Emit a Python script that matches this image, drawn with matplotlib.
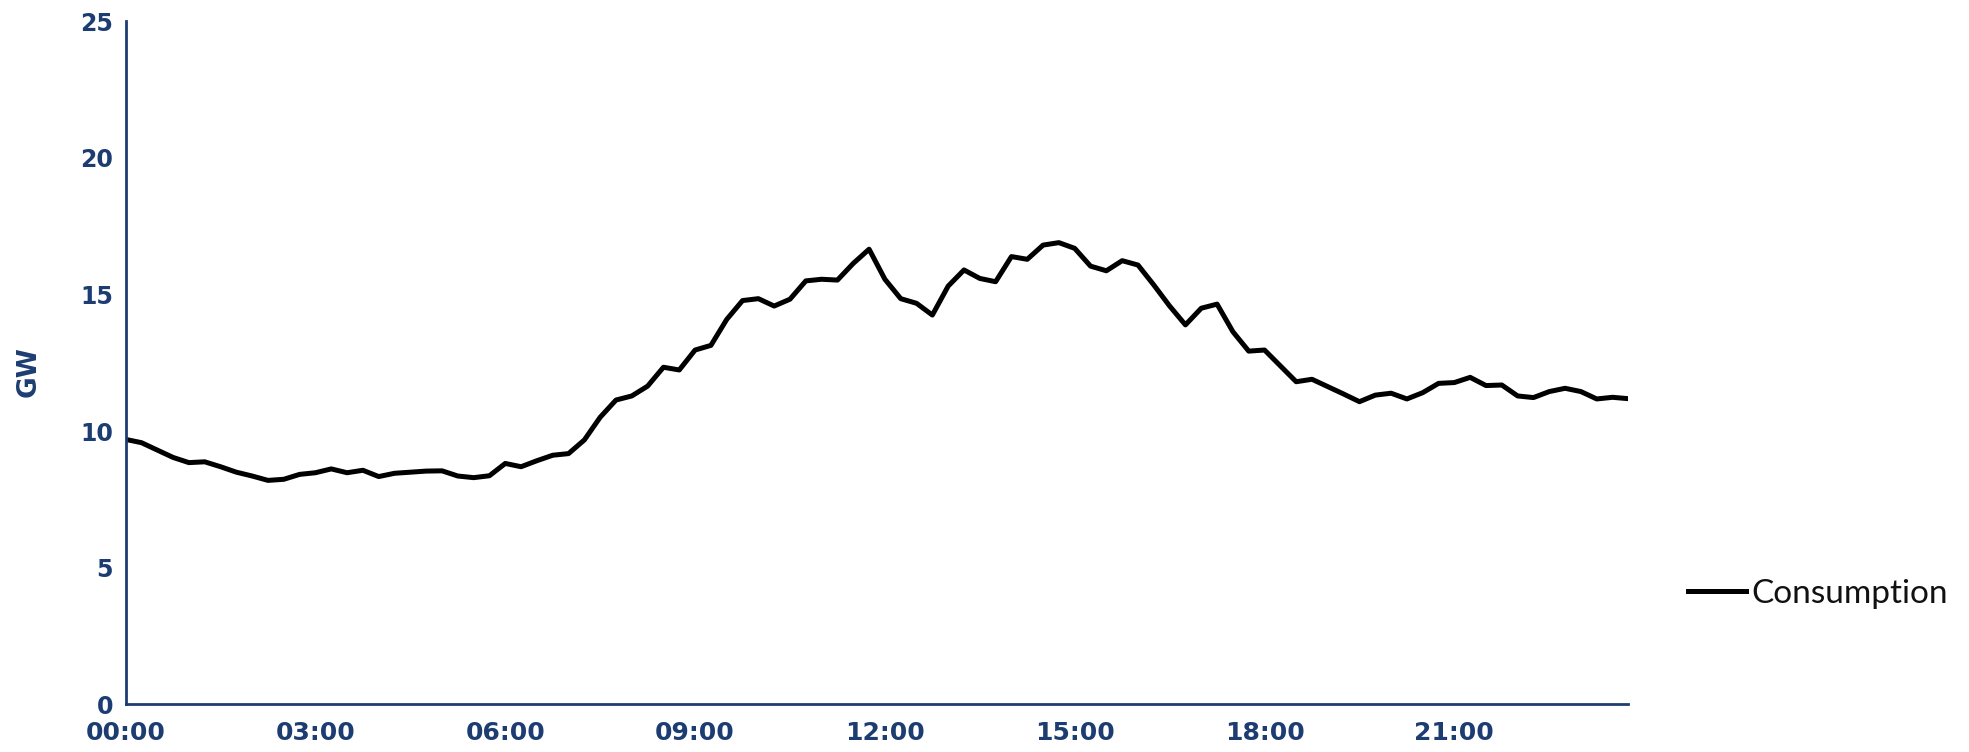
import numpy as np
import matplotlib.pyplot as plt

# Consumption, 15-minute steps over one day (GW)
consumption = [
    9.70, 9.58, 9.31, 9.04, 8.85, 8.88, 8.70, 8.50, 8.36, 8.20, 8.24, 8.42,
    8.48, 8.62, 8.48, 8.57, 8.34, 8.46, 8.50, 8.54, 8.55, 8.36, 8.30, 8.37,
    8.82, 8.70, 8.92, 9.12, 9.18, 9.68, 10.51, 11.14, 11.29, 11.65, 12.34, 12.24,
    12.97, 13.14, 14.09, 14.78, 14.85, 14.58, 14.83, 15.50, 15.56, 15.53, 16.14, 16.66,
    15.56, 14.85, 14.68, 14.25, 15.31, 15.90, 15.59, 15.47, 16.39, 16.29, 16.81, 16.90,
    16.69, 16.04, 15.87, 16.24, 16.08, 15.35, 14.58, 13.89, 14.50, 14.65, 13.64, 12.93,
    12.97, 12.39, 11.81, 11.90, 11.63, 11.36, 11.08, 11.32, 11.39, 11.18, 11.41, 11.75,
    11.78, 11.97, 11.67, 11.69, 11.29, 11.23, 11.45, 11.57, 11.45, 11.18, 11.24, 11.19,
]
tick_labels = ["00:00", "03:00", "06:00", "09:00", "12:00", "15:00", "18:00", "21:00"]
y_ticks = [0, 5, 10, 15, 20, 25]

navy = "#1d3d72"
x = np.arange(len(consumption))

fig = plt.figure(figsize=(19.69, 7.52), dpi=100)
ax = fig.add_axes([0.0638, 0.0632, 0.7632, 0.9085])

ax.plot(x, consumption, color="black", lw=3.6, solid_joinstyle="round",
        label="Consumption")

ax.set_xlim(0, len(consumption) - 1)
ax.set_ylim(0, 25)
ax.set_xticks(np.arange(0, len(consumption), 12))
ax.set_xticklabels(tick_labels)
ax.set_yticks(y_ticks)

for s in ["top", "right"]:
    ax.spines[s].set_visible(False)
for s in ["left", "bottom"]:
    ax.spines[s].set_color(navy)
    ax.spines[s].set_linewidth(2.0)

ax.tick_params(axis="both", length=0, colors=navy)
ax.tick_params(axis="x", pad=12, labelsize=18)
ax.tick_params(axis="y", pad=9, labelsize=17)
for lab in ax.get_xticklabels() + ax.get_yticklabels():
    lab.set_fontweight("bold")

ax.set_ylabel("GW", color=navy, fontsize=19, fontweight="bold")
ax.yaxis.set_label_coords(-0.056, 0.487)

fig.legend(loc="center left", bbox_to_anchor=(0.842, 0.21), frameon=False,
           handlelength=1.75, handletextpad=0.15, labelcolor="#111111",
           prop={"family": "Lato", "size": 24})

fig.savefig("out.png", dpi=100)
